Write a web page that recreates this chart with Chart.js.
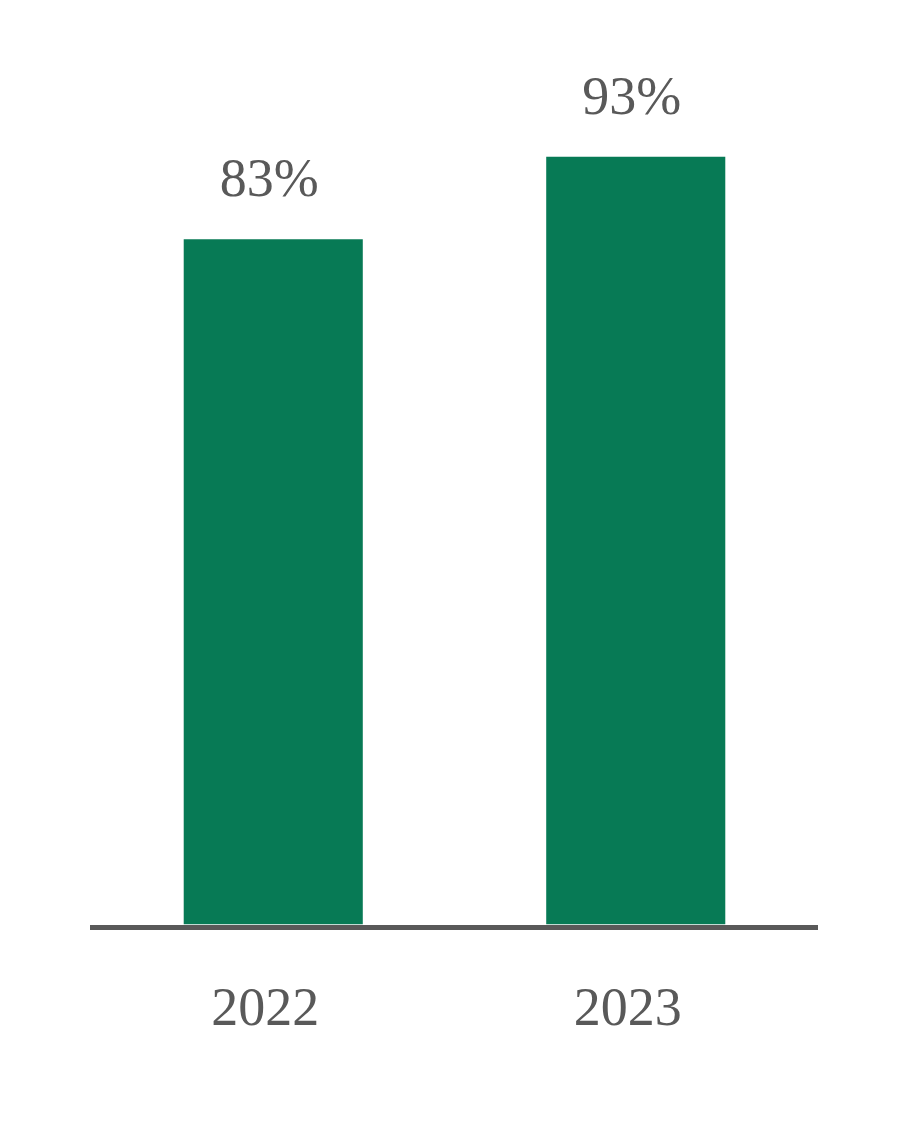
<!DOCTYPE html>
<html>
<head>
<meta charset="utf-8">
<script src="https://cdn.jsdelivr.net/npm/chart.js@4"></script>
<style>
html,body{margin:0;padding:0;background:#fff;}
#wrap{width:906px;height:1128px;}
</style>
</head>
<body>
<div id="wrap"><canvas id="c" width="906" height="1128"></canvas></div>
<script>
const categories = ["2022", "2023"];
const values = [83, 93];
const valueLabels = ["83%", "93%"];

const GREEN = "#077A55";
const GREY = "#595959";
const FONT = "'Liberation Serif', 'Times New Roman', serif";

const valueLabelPlugin = {
  id: "valueLabels",
  afterDatasetsDraw(chart) {
    const ctx = chart.ctx;
    const meta = chart.getDatasetMeta(0);
    ctx.save();
    ctx.fillStyle = GREY;
    ctx.font = "54px " + FONT;
    ctx.textAlign = "center";
    ctx.textBaseline = "middle";
    meta.data.forEach((bar, i) => {
      ctx.fillText(valueLabels[i], bar.x - 4, bar.y - 57);
    });
    ctx.restore();
  }
};

new Chart(document.getElementById("c"), {
  type: "bar",
  data: {
    labels: categories,
    datasets: [{
      data: values,
      backgroundColor: GREEN,
      borderWidth: 0,
      barPercentage: 0.494,
      categoryPercentage: 1
    }]
  },
  options: {
    responsive: false,
    animation: false,
    devicePixelRatio: 1,
    layout: { padding: { top: 99, left: 92, right: 89, bottom: 34.5 } },
    plugins: { legend: { display: false }, tooltip: { enabled: false } },
    scales: {
      x: {
        grid: { display: false, drawTicks: false },
        border: { display: true, color: GREY, width: 5 },
        ticks: {
          color: GREY,
          font: { family: FONT, size: 54 },
          padding: 50.5,
          labelOffset: -8
        }
      },
      y: {
        display: false,
        min: -0.424,
        max: 100
      }
    }
  },
  plugins: [valueLabelPlugin]
});
</script>
</body>
</html>
